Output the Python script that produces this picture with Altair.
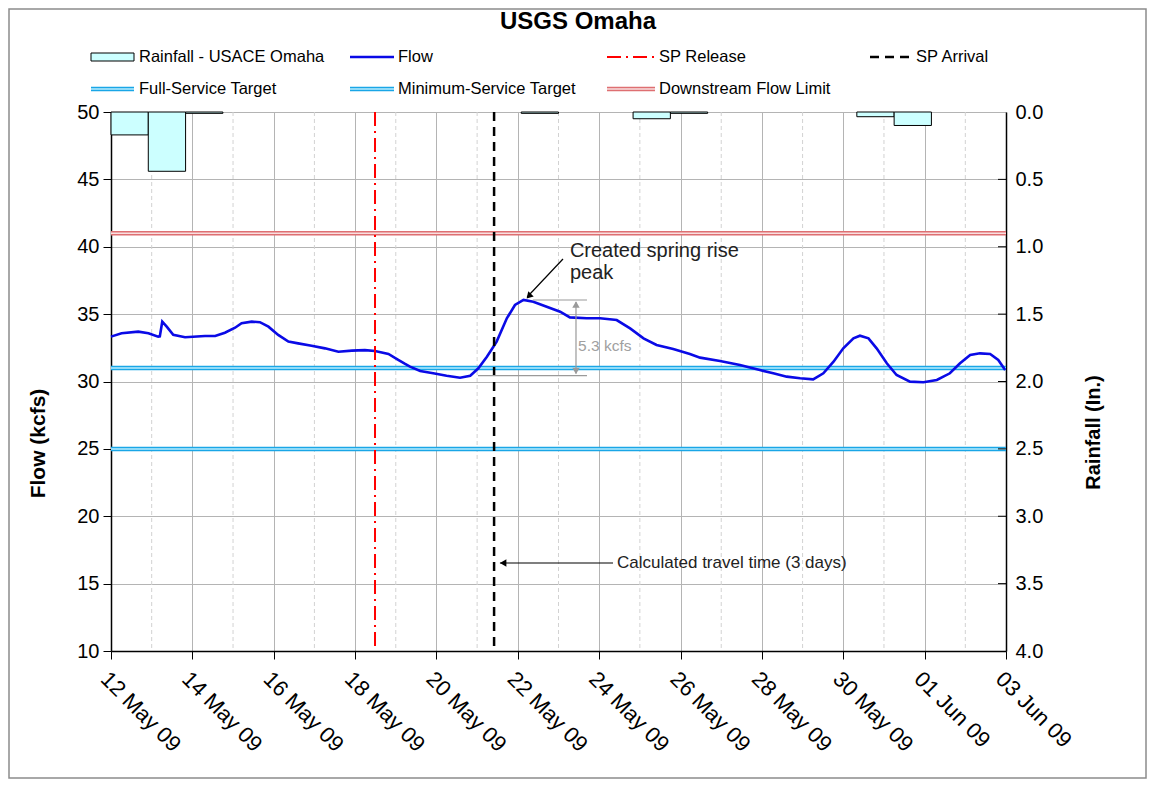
import altair as alt
import pandas as pd

# ---------------- data ----------------
START = pd.Timestamp("2009-05-12")

flow_day = [0.00, 0.26, 0.67, 0.92, 1.16, 1.20, 1.26, 1.37, 1.53, 1.82, 2.31, 2.56, 2.80, 3.05, 3.21,
            3.46, 3.66, 3.87, 4.11, 4.36, 4.60, 4.93, 5.26, 5.59, 5.92, 6.24, 6.49, 6.82, 7.06, 7.23,
            7.35, 7.60, 7.92, 8.25, 8.58, 8.83, 9.03, 9.24, 9.48, 9.73, 9.93, 10.14, 10.38, 10.71, 11.04,
            11.28, 11.69, 12.02, 12.43, 12.76, 13.09, 13.41, 13.82, 14.23, 14.48, 14.97, 15.46, 15.95, 16.28, 16.61,
            16.94, 17.26, 17.51, 17.76, 18.00, 18.25, 18.41, 18.62, 18.82, 19.07, 19.31, 19.64, 19.97, 20.30, 20.62,
            20.87, 21.12, 21.36, 21.61, 21.81, 21.98]
flow_kcfs = [33.33, 33.58, 33.70, 33.58, 33.33, 33.35, 34.44, 34.07, 33.46, 33.28, 33.38, 33.38, 33.62, 33.99, 34.32,
             34.44, 34.40, 34.07, 33.46, 32.96, 32.83, 32.66, 32.46, 32.21, 32.29, 32.33, 32.26, 32.04, 31.60, 31.30,
             31.10, 30.78, 30.61, 30.43, 30.28, 30.43, 30.98, 31.84, 32.96, 34.69, 35.68, 36.05, 35.92, 35.55, 35.18,
             34.76, 34.69, 34.69, 34.56, 33.94, 33.20, 32.71, 32.41, 32.04, 31.77, 31.52, 31.22, 30.85, 30.61, 30.36,
             30.24, 30.16, 30.61, 31.47, 32.46, 33.20, 33.40, 33.20, 32.46, 31.35, 30.48, 29.99, 29.94, 30.11, 30.61,
             31.35, 31.97, 32.09, 32.04, 31.60, 30.85]

# rainfall (category axis of daily slots, as in the original workbook)
rain_slots = ["12 May", "13 May", "14 May", "15 May", "16 May", "17 May", "18 May", "19 May",
              "20 May", "21 May", "22 May", "23 May", "24 May", "25 May", "26 May", "27 May",
              "28 May", "29 May", "30 May", "31 May", "01 Jun", "02 Jun", "03 Jun", "04 Jun"]
rain_day = ["12 May", "13 May", "14 May", "23 May", "26 May", "27 May", "01 Jun", "02 Jun"]
rain_in = [0.17, 0.44, 0.01, 0.01, 0.05, 0.01, 0.035, 0.10]

tick_dates = ["2009-05-12", "2009-05-14", "2009-05-16", "2009-05-18", "2009-05-20", "2009-05-22",
              "2009-05-24", "2009-05-26", "2009-05-28", "2009-05-30", "2009-06-01", "2009-06-03"]
minor_dates = ["2009-05-13", "2009-05-15", "2009-05-17", "2009-05-19", "2009-05-21", "2009-05-23",
               "2009-05-25", "2009-05-27", "2009-05-29", "2009-05-31", "2009-06-02"]
flow_ticks = [10, 15, 20, 25, 30, 35, 40, 45, 50]
rain_ticks = [0.0, 0.5, 1.0, 1.5, 2.0, 2.5, 3.0, 3.5, 4.0]

full_service = 31.0
min_service = 25.0
downstream_limit = 41.0
sp_release = "2009-05-18T11:45:00"
sp_arrival = "2009-05-21T10:00:00"

legend_labels = ["Rainfall - USACE Omaha", "Flow", "SP Release", "SP Arrival",
                 "Full-Service Target", "Minimum-Service Target", "Downstream Flow Limit"]

# ---------------- layout / style ----------------
FONT = "Liberation Sans"
W, H = 895, 539
X0, Y0 = 111, 112  # page position of plot origin


def T(d):
    return START + pd.Timedelta(days=d)


def dt(s):
    ts = pd.Timestamp(s)
    return alt.DateTime(year=ts.year, month=ts.month, date=ts.day)


one = pd.DataFrame({"k": [0]})

x_axis = alt.Axis(values=[dt(s) for s in tick_dates], format="%d %b %y", labelAngle=45,
                  labelAlign="left", labelBaseline="top", labelFontSize=22, labelPadding=9,
                  labelFlush=False, labelOverlap=False, labelBound=False, tickSize=8,
                  tickColor="black", domainColor="black", domainWidth=1.5, labelColor="black",
                  grid=True, gridColor="#b4b4b4", title=None)
y_axis = alt.Axis(values=flow_ticks, orient="left", title="Flow (kcfs)", titleFontSize=21,
                  titleFontWeight="bold", titlePadding=28, titleColor="black", titleY=331,
                  labelFontSize=20, labelPadding=4, tickSize=8, tickColor="black", domainColor="black",
                  domainWidth=1.5, grid=True, gridColor="#b4b4b4", labelColor="black")

X = alt.X("t:T", scale=alt.Scale(domain=[dt("2009-05-12"), dt("2009-06-03")]), axis=x_axis)
X2 = alt.X2("t2:T")
Y = alt.Y("kcfs:Q", scale=alt.Scale(domain=[10, 50], nice=False, zero=False), axis=y_axis)
Y2 = alt.Y2("kcfs2:Q")

flow_df = pd.DataFrame({"t": [T(d) for d in flow_day], "kcfs": flow_kcfs})

layers = []
# minor (odd-day) grid lines
layers.append(alt.Chart(pd.DataFrame({"t": pd.to_datetime(minor_dates)}))
              .mark_rule(color="#d2d2d2", strokeDash=[4, 3], strokeWidth=1).encode(x=X))


def double_line(value, outer, inner):
    d = pd.DataFrame({"kcfs": [value]})
    return [alt.Chart(d).mark_rule(color=outer, strokeWidth=4.5).encode(y=Y),
            alt.Chart(d).mark_rule(color=inner, strokeWidth=1.5).encode(y=Y)]


CY_OUT, CY_IN = "#1aa6e6", "#b8ecff"
RD_OUT, RD_IN = "#de6f72", "#f9dfe0"
layers += double_line(downstream_limit, RD_OUT, RD_IN)
layers += double_line(min_service, CY_OUT, CY_IN)
layers += double_line(full_service, CY_OUT, CY_IN)

layers.append(alt.Chart(flow_df).mark_line(color="#0a0ae6", strokeWidth=2.6).encode(x=X, y=Y))

layers.append(alt.Chart(pd.DataFrame({"t": [pd.Timestamp(sp_release)]}))
              .mark_rule(color="#ff0000", strokeWidth=2, strokeDash=[14, 5, 2, 5]).encode(x=X))
layers.append(alt.Chart(pd.DataFrame({"t": [pd.Timestamp(sp_arrival)]}))
              .mark_rule(color="black", strokeWidth=2.5, strokeDash=[9, 6]).encode(x=X))

# annotations
seg = pd.DataFrame({"t": [T(11.11), T(11.43), T(10.37), T(9.02), T(12.34)],
                    "t2": [T(10.23), T(11.43), T(11.70), T(11.70), T(9.56)],
                    "kcfs": [39.09, 35.9, 36.05, 30.43, 16.53],
                    "kcfs2": [36.27, 30.6, 36.05, 30.43, 16.53],
                    "c": ["black", "#9a9a9a", "#9a9a9a", "#9a9a9a", "black"]})
layers.append(alt.Chart(seg).mark_rule(strokeWidth=1.2)
              .encode(x=X, x2=X2, y=Y, y2=Y2, color=alt.Color("c:N", scale=None)))

heads = [(10.27, 36.33, 223, "black"), (9.64, 16.53, 270, "black"),
         (11.43, 35.72, 0, "#9a9a9a"), (11.43, 30.78, 180, "#9a9a9a")]
for d, v, ang, col in heads:
    layers.append(alt.Chart(pd.DataFrame({"t": [T(d)], "kcfs": [v]}))
                  .mark_point(shape="triangle-up", filled=True, size=55, angle=ang, color=col, opacity=1)
                  .encode(x=X, y=Y))

texts = [("Created spring rise", 11.28, 39.68, 20, "#222222"),
         ("peak", 11.28, 38.05, 20, "#222222"),
         ("5.3 kcfs", 11.48, 32.63, 15.5, "#a0a0a0"),
         ("Calculated travel time (3 days)", 12.44, 16.53, 17, "#222222")]
for s, d, v, fs, col in texts:
    layers.append(alt.Chart(pd.DataFrame({"t": [T(d)], "kcfs": [v]}))
                  .mark_text(text=s, align="left", baseline="middle", fontSize=fs, color=col, font=FONT)
                  .encode(x=X, y=Y))


# ---------------- legend, title, frame (page-pixel layout) ----------------
def ltext(s, px, py, size=16.5, weight="normal", align="left"):
    return alt.Chart(one).mark_text(text=s, align=align, baseline="middle", fontSize=size,
                                    fontWeight=weight, color="black", font=FONT) \
        .encode(x=alt.value(px - X0), y=alt.value(py - Y0))


def lrule(x1, x2, py, color, width, dash=None):
    kw = dict(color=color, strokeWidth=width)
    if dash:
        kw["strokeDash"] = dash
    return alt.Chart(one).mark_rule(**kw).encode(x=alt.value(x1 - X0), x2=alt.value(x2 - X0),
                                                 y=alt.value(py - Y0))


R1, R2 = 57, 89
C = [(91, 134, 139), (350, 394, 398), (607, 655, 659), (870, 914, 916)]

layers.append(alt.Chart(one).mark_rect(fill="#ccffff", stroke="black", strokeWidth=1)
              .encode(x=alt.value(C[0][0] - X0), x2=alt.value(C[0][1] - X0),
                      y=alt.value(R1 - 4 - Y0), y2=alt.value(R1 + 4 - Y0)))
layers.append(ltext(legend_labels[0], C[0][2], R1))
layers.append(lrule(C[1][0], C[1][1], R1, "#0a0ae6", 2.4))
layers.append(ltext(legend_labels[1], C[1][2], R1))
layers.append(lrule(C[2][0], C[2][1], R1, "#ff0000", 2, [14, 5, 2, 5]))
layers.append(ltext(legend_labels[2], C[2][2], R1))
layers.append(lrule(C[3][0], C[3][1], R1, "black", 2.5, [9, 6]))
layers.append(ltext(legend_labels[3], C[3][2], R1))

layers.append(lrule(C[0][0], C[0][1], R2, CY_OUT, 4.5))
layers.append(lrule(C[0][0], C[0][1], R2, CY_IN, 1.5))
layers.append(ltext(legend_labels[4], C[0][2], R2))
layers.append(lrule(C[1][0], C[1][1], R2, CY_OUT, 4.5))
layers.append(lrule(C[1][0], C[1][1], R2, CY_IN, 1.5))
layers.append(ltext(legend_labels[5], C[1][2], R2))
layers.append(lrule(C[2][0], C[2][1], R2, RD_OUT, 4.5))
layers.append(lrule(C[2][0], C[2][1], R2, RD_IN, 1.5))
layers.append(ltext(legend_labels[6], C[2][2], R2))

layers.append(ltext("USGS Omaha", 578, 22, size=24, weight="bold", align="center"))

layers.append(alt.Chart(one).mark_rect(fill=None, stroke="#8c8c8c", strokeWidth=1.5)
              .encode(x=alt.value(9 - X0), x2=alt.value(1146 - X0),
                      y=alt.value(9 - Y0), y2=alt.value(778 - Y0)))

flow_group = alt.layer(*layers)

# ---------------- rainfall (secondary axis) ----------------
RX = alt.X("slot:O", scale=alt.Scale(domain=rain_slots, paddingInner=0, paddingOuter=0), axis=None)
RY = alt.Y("rain:Q", scale=alt.Scale(domain=[0, 4], reverse=True, nice=False, zero=False),
           axis=alt.Axis(orient="right", values=rain_ticks, format=".1f", title="Rainfall (In.)",
                         titleFontSize=20, titleFontWeight="bold", titleAngle=270, titleBaseline="top",
                         titlePadding=41, titleColor="black", titleY=320, labelFontSize=20, labelPadding=9,
                         ticks=False, domainColor="black", domainWidth=1.5, grid=False,
                         labelColor="black"))

rain_df = pd.DataFrame({"slot": rain_day, "rain": rain_in})
bars = alt.Chart(rain_df).mark_bar(fill="#ccffff", stroke="black", strokeWidth=1).encode(x=RX, y=RY)
inner_ticks = alt.Chart(pd.DataFrame({"rain": rain_ticks[1:-1]})).mark_rule(color="black", strokeWidth=1) \
    .encode(y=RY, x=alt.value(W - 8), x2=alt.value(W))
rain_group = alt.layer(bars, inner_ticks)

chart = alt.layer(flow_group, rain_group).resolve_scale(x="independent", y="independent").properties(
    width=W, height=H, autosize=alt.AutoSizeParams(type="none"),
    padding={"left": 103, "top": 104, "right": 141, "bottom": 128},
).configure_view(stroke=None).configure(font=FONT)

chart.save("out.html", embed_options={"renderer": "svg", "actions": False})
